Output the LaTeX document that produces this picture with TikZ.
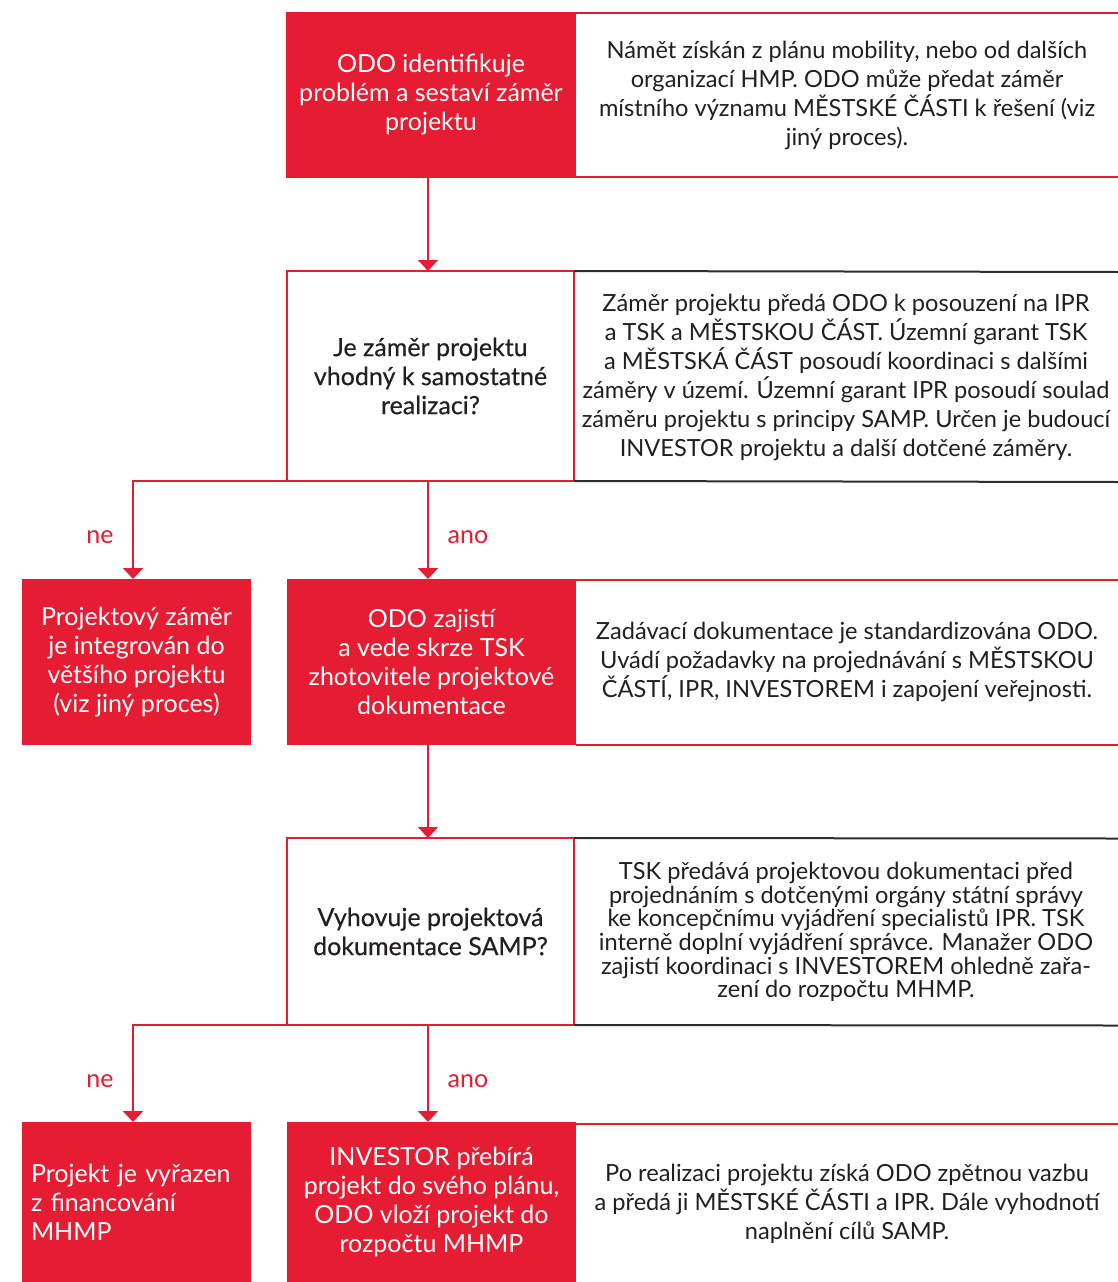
\documentclass[tikz,border=0pt]{standalone}
\usepackage{fontspec}
\setmainfont{Lato}
\usetikzlibrary{arrows.meta,calc}
\definecolor{odored}{RGB}{230,28,50}
\definecolor{txt}{RGB}{35,31,32}
\definecolor{darkline}{RGB}{45,45,45}
\begin{document}
\begin{tikzpicture}[x=1pt,y=-1pt,
  every node/.style={inner sep=0pt,outer sep=0pt,font=\fontsize{25}{29}\selectfont},
  redbox/.style={fill=odored,text=white,align=center},
  decbox/.style={draw=odored,line width=2pt,fill=white,text=txt,align=center,
    font=\fontsize{25}{29}\selectfont\addfontfeature{FakeBold=0.4}},
  infobox/.style={text=txt,align=center,font=\fontsize{23.6}{29}\selectfont},
  redrule/.style={draw=odored,line width=2pt},
  darkrule/.style={draw=darkline,line width=2pt},
  conn/.style={draw=odored,line width=2pt},
  arr/.style={conn,-{Triangle[width=20pt,length=11pt]}},
  lbl/.style={text=odored}
]
\useasboundingbox (0,0) rectangle (1118,1282);
\fill[white] (0,0) rectangle (1118,1282);
\coordinate (mainx) at (428,0);
\coordinate (leftx) at (133,0);

% Row 1
\node[redbox,minimum width=290pt,minimum height=166pt] (a1) at (431,95)
  {ODO identifikuje\\problém a sestaví záměr\\projektu};
\node[infobox,minimum width=542pt,minimum height=164pt] (r1) at (847,95)
  {Námět získán z plánu mobility, nebo od dalších\\organizací HMP. ODO může předat záměr\\místního významu MĚSTSKÉ ČÁSTI k řešení (viz\\jiný proces).};
\draw[redrule] (r1.north west) -- (r1.north east);
\draw[redrule] (r1.south west) -- (r1.south east);

% Row 2
\node[decbox,minimum width=287pt,minimum height=210pt] (d1) at (430.5,376)
  {Je záměr projektu\\vhodný k samostatné\\realizaci?};
\node[infobox,minimum width=544pt,minimum height=210pt] (r2) at (846,377)
  {Záměr projektu předá ODO k posouzení na IPR\\a TSK a MĚSTSKOU ČÁST. Územní garant TSK\\a MĚSTSKÁ ČÁST posoudí koordinaci s dalšími\\záměry v území. Územní garant IPR posoudí soulad\\záměru projektu s principy SAMP. Určen je budoucí\\INVESTOR projektu a další dotčené záměry.};
\draw[darkrule] (d1.north east) -- (r2.north east);
\draw[darkrule] (d1.south east) -- (r2.south east);

% Row 3
\node[redbox,minimum width=229pt,minimum height=166pt] (b1) at (136.5,662)
  {Projektový záměr\\je integrován do\\většího projektu\\(viz jiný proces)};
\node[redbox,minimum width=289pt,minimum height=166pt] (a2) at (431.5,662)
  {ODO zajistí\\a vede skrze TSK\\zhotovitele projektové\\dokumentace};
\node[infobox,minimum width=542pt,minimum height=165pt] (r3) at (847,662)
  {Zadávací dokumentace je standardizována ODO.\\Uvádí požadavky na projednávání s MĚSTSKOU\\ČÁSTÍ, IPR, INVESTOREM i zapojení veřejnosti.};
\draw[redrule] (r3.north west) -- (r3.north east);
\draw[redrule] (r3.south west) -- (r3.south east);

% Row 4
\node[decbox,minimum width=287pt,minimum height=187pt] (d2) at (430.5,931.5)
  {Vyhovuje projektová\\dokumentace SAMP?};
\node[infobox,minimum width=544pt,minimum height=187pt,
  font=\fontsize{23.6}{23.6}\selectfont] (r4) at (846,932)
  {TSK předává projektovou dokumentaci před\\projednáním s dotčenými orgány státní správy\\ke koncepčnímu vyjádření specialistů IPR. TSK\\interně doplní vyjádření správce. Manažer ODO\\zajistí koordinaci s INVESTOREM ohledně zařa-\\zení do rozpočtu MHMP.};
\draw[darkrule] (d2.north east) -- (r4.north east);
\draw[darkrule] (d2.south east) -- (r4.south east);

% Row 5
\node[redbox,minimum width=229pt,minimum height=160pt,align=left,
  text width=211pt] (b2) at (136.5,1202)
  {Projekt je vyřazen\\z financování\\MHMP};
\node[redbox,minimum width=289pt,minimum height=160pt] (a3) at (431.5,1202)
  {INVESTOR přebírá\\projekt do svého plánu,\\ODO vloží projekt do\\rozpočtu MHMP};
\node[infobox,minimum width=542pt,minimum height=160pt] (r5) at (847,1204)
  {Po realizaci projektu získá ODO zpětnou vazbu\\a předá ji MĚSTSKÉ ČÁSTI a IPR. Dále vyhodnotí\\naplnění cílů SAMP.};
\draw[redrule] (r5.north west) -- (r5.north east);

% Connectors
\draw[arr] (a1.south -| mainx) -- (d1.north -| mainx);
\draw[arr] (d1.south -| mainx) -- (a2.north -| mainx);
\draw[arr] (d1.south west) -- (d1.south west -| leftx) -- (b1.north -| leftx);
\draw[arr] (a2.south -| mainx) -- (d2.north -| mainx);
\draw[arr] (d2.south -| mainx) -- (a3.north -| mainx);
\draw[arr] (d2.south west) -- (d2.south west -| leftx) -- (b2.north -| leftx);

% Labels
\node[lbl] (ne1) at (100,537) {ne};
\node[lbl] (ano1) at (468,537) {ano};
\node[lbl] (ne2) at (100,1081) {ne};
\node[lbl] (ano2) at (468,1081) {ano};
\end{tikzpicture}
\end{document}
